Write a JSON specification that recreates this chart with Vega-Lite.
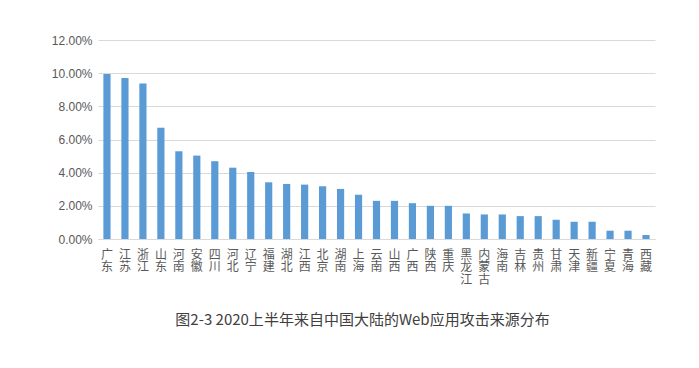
{
  "$schema": "https://vega.github.io/schema/vega-lite/v6.json",
  "autosize": "none",
  "padding": {"left": 98, "top": 40, "right": 44, "bottom": 129},
  "width": 557,
  "height": 199,
  "background": "white",
  "title": {
    "text": "图2-3  2020上半年来自中国大陆的Web应用攻击来源分布",
    "orient": "bottom",
    "anchor": "middle",
    "frame": "group",
    "font": "Noto Sans CJK SC",
    "fontSize": 15,
    "fontWeight": "normal",
    "color": "#404040",
    "offset": 28,
    "dx": -14
  },
  "config": {
    "view": {"stroke": null}
  },
  "data": {
    "values": [
      {"p": "广东", "v": 0.0995},
      {"p": "江苏", "v": 0.0971},
      {"p": "浙江", "v": 0.0937},
      {"p": "山东", "v": 0.0671},
      {"p": "河南", "v": 0.0529},
      {"p": "安徽", "v": 0.0503},
      {"p": "四川", "v": 0.0469},
      {"p": "河北", "v": 0.0430},
      {"p": "辽宁", "v": 0.0404},
      {"p": "福建", "v": 0.0342},
      {"p": "湖北", "v": 0.0332},
      {"p": "江西", "v": 0.0328},
      {"p": "北京", "v": 0.0318},
      {"p": "湖南", "v": 0.0302},
      {"p": "上海", "v": 0.0267},
      {"p": "云南", "v": 0.0230},
      {"p": "山西", "v": 0.0230},
      {"p": "广西", "v": 0.0216},
      {"p": "陕西", "v": 0.0200},
      {"p": "重庆", "v": 0.0200},
      {"p": "黑龙江", "v": 0.0154},
      {"p": "内蒙古", "v": 0.0148},
      {"p": "海南", "v": 0.0148},
      {"p": "吉林", "v": 0.0138},
      {"p": "贵州", "v": 0.0138},
      {"p": "甘肃", "v": 0.0116},
      {"p": "天津", "v": 0.0104},
      {"p": "新疆", "v": 0.0104},
      {"p": "宁夏", "v": 0.0050},
      {"p": "青海", "v": 0.0050},
      {"p": "西藏", "v": 0.0024}
    ]
  },
  "mark": {"type": "bar", "color": "#5B9BD5"},
  "encoding": {
    "x": {
      "field": "p",
      "type": "nominal",
      "sort": null,
      "scale": {"paddingInner": 0.6, "paddingOuter": 0.3},
      "axis": {
        "title": null,
        "labelAngle": 0,
        "labelExpr": "split(datum.label, '')",
        "labelFont": "Noto Sans CJK SC",
        "labelFontSize": 12,
        "labelLineHeight": 12.5,
        "labelColor": "#595959",
        "labelPadding": 10,
        "labelBaseline": "top",
        "ticks": false,
        "domainColor": "#D9D9D9",
        "domainWidth": 1
      }
    },
    "y": {
      "field": "v",
      "type": "quantitative",
      "scale": {"domain": [0, 0.12]},
      "axis": {
        "title": null,
        "format": ".2%",
        "values": [0, 0.02, 0.04, 0.06, 0.08, 0.1, 0.12],
        "labelFont": "Liberation Sans",
        "labelFontSize": 12,
        "labelColor": "#595959",
        "labelPadding": 6,
        "ticks": false,
        "domain": false,
        "gridColor": "#D9D9D9",
        "gridWidth": 1
      }
    }
  }
}
